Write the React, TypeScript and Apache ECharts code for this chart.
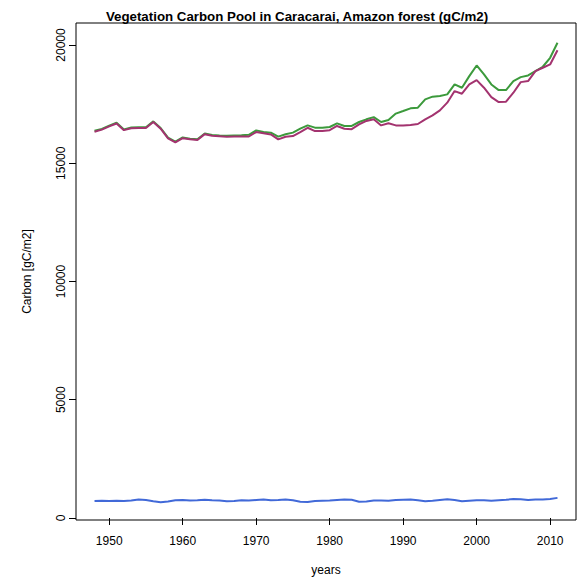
import React, { useEffect, useRef } from "react";
import * as echarts from "echarts";

const years: number[] = [];
for (let y = 1948; y <= 2011; y++) years.push(y);

const greenValues = [
  16370, 16450, 16590, 16710, 16430, 16510, 16520, 16520, 16770, 16490,
  16080, 15910, 16090, 16040, 16010, 16260, 16190, 16170, 16160, 16170,
  16180, 16200, 16390, 16320, 16290, 16125, 16224, 16294, 16463, 16603,
  16505, 16505, 16533, 16688, 16575, 16575, 16744, 16857, 16950, 16744,
  16830, 17100, 17207, 17321, 17350, 17700, 17815, 17840, 17911, 18333,
  18193, 18684, 19135, 18755, 18333, 18093, 18093, 18473, 18641, 18713,
  18895, 19080, 19459, 20093,
];

const purpleValues = [
  16330, 16420, 16560, 16680, 16400, 16480, 16490, 16490, 16740, 16460,
  16050, 15880, 16060, 16010, 15980, 16230, 16160, 16140, 16120, 16130,
  16130, 16130, 16320, 16270, 16220, 16010, 16120, 16150, 16320, 16500,
  16360, 16360, 16400, 16575, 16460, 16440, 16640, 16790, 16860, 16600,
  16690, 16600, 16600, 16616, 16658, 16857, 17025, 17236, 17561, 18051,
  17941, 18333, 18515, 18193, 17798, 17587, 17603, 17983, 18430, 18473,
  18895, 19038, 19177, 19781,
];

const blueValues = [
  720, 730, 720, 730, 720, 740, 780, 760, 710, 670,
  700, 750, 760, 740, 750, 770, 750, 740, 710, 720,
  750, 740, 760, 780, 750, 760, 780, 750, 690, 680,
  720, 730, 740, 760, 780, 770, 690, 700, 740, 740,
  730, 760, 770, 780, 750, 710, 730, 760, 790, 760,
  710, 730, 750, 750, 730, 750, 770, 800, 790, 760,
  780, 780, 800, 850,
];

const xTicks = [1950, 1960, 1970, 1980, 1990, 2000, 2010];
const yTicks = [0, 5000, 10000, 15000, 20000];

const title = "Vegetation Carbon Pool in Caracarai, Amazon forest (gC/m2)";
const xName = "years";
const yName = "Carbon [gC/m2]";

const FONT = "Liberation Sans, Arial, Helvetica, sans-serif";

export default function App() {
  const ref = useRef<HTMLDivElement>(null);
  useEffect(() => {
    if (!ref.current) return;
    const chart = echarts.init(ref.current, undefined, { renderer: "svg" });
    const mk = (vals: number[]) => years.map((y, i) => [y, vals[i]]);
    chart.setOption({
      animation: false,
      backgroundColor: "#ffffff",
      title: {
        text: title,
        left: 292,
        textAlign: "center",
        top: 5,
        textStyle: { fontFamily: FONT, fontSize: 13.3, fontWeight: "bold", color: "#000" },
      },
      grid: {
        left: 76,
        right: 4,
        top: 23,
        bottom: 59.5,
        show: true,
        borderColor: "#000",
        borderWidth: 1,
        backgroundColor: "transparent",
      },
      xAxis: {
        type: "value",
        min: 1945.48,
        max: 2013.52,
        name: xName,
        nameLocation: "middle",
        nameGap: 44,
        nameTextStyle: { fontFamily: FONT, fontSize: 12, color: "#000", verticalAlign: "top" },
        axisLine: { show: false },
        splitLine: { show: false },
        axisTick: { show: true, length: 7, lineStyle: { color: "#000" }, customValues: xTicks },
        axisLabel: {
          customValues: xTicks,
          margin: 15,
          fontFamily: FONT,
          fontSize: 12,
          color: "#000",
          formatter: (v: number) => String(v),
        },
      },
      yAxis: {
        type: "value",
        min: -85,
        max: 20930,
        name: yName,
        nameLocation: "middle",
        nameGap: 43,
        nameRotate: 90,
        nameTextStyle: { fontFamily: FONT, fontSize: 12, color: "#000" },
        axisLine: { show: false },
        splitLine: { show: false },
        axisTick: { show: true, length: 7, lineStyle: { color: "#000" }, customValues: yTicks },
        axisLabel: {
          customValues: yTicks,
          rotate: 90,
          margin: 15,
          align: "center",
          verticalAlign: "middle",
          fontFamily: FONT,
          fontSize: 12,
          color: "#000",
          formatter: (v: number) => String(v),
        },
      },
      series: [
        {
          type: "line",
          data: mk(greenValues),
          symbol: "none",
          lineStyle: { color: "#3c9a3c", width: 2 },
          z: 3,
        },
        {
          type: "line",
          data: mk(purpleValues),
          symbol: "none",
          lineStyle: { color: "#a3336f", width: 2 },
          z: 4,
        },
        {
          type: "line",
          data: mk(blueValues),
          symbol: "none",
          lineStyle: { color: "#4169d8", width: 2 },
          z: 5,
        },
      ],
    });
    return () => chart.dispose();
  }, []);
  return (
    <div
      ref={ref}
      style={{ position: "fixed", left: 0, top: 0, width: 580, height: 581, background: "#fff" }}
    />
  );
}
